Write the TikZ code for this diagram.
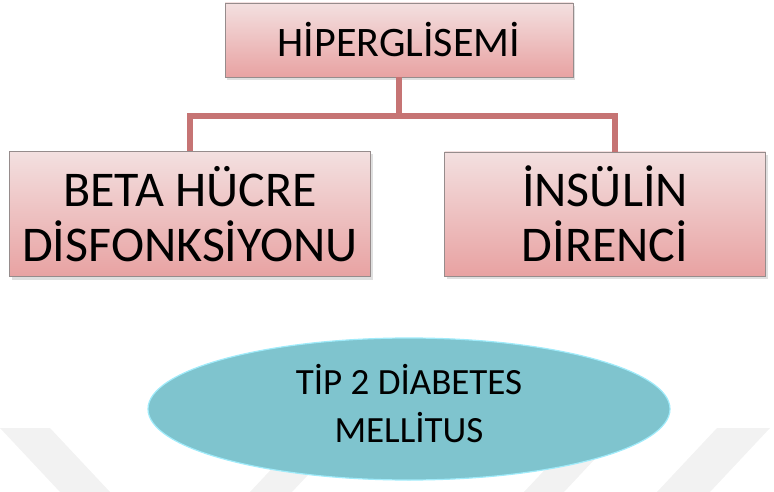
\documentclass[tikz,border=0pt]{standalone}
\usepackage{fontspec}
\setmainfont{Carlito}
\usetikzlibrary{shapes.geometric,shadows}
\definecolor{kutukenar}{RGB}{150,140,140}
\definecolor{kututop}{RGB}{243,224,224}
\definecolor{kutualt}{RGB}{232,162,162}
\definecolor{baglanti}{RGB}{198,116,116}
\definecolor{elipsdolgu}{RGB}{127,196,206}
\definecolor{elipskenar}{RGB}{160,235,250}
\definecolor{filigran}{RGB}{242,242,242}
\tikzset{
  kutu/.style={rectangle, draw=kutukenar, top color=kututop, bottom color=kutualt,
    align=center, inner sep=0pt,
    drop shadow={shadow xshift=2pt, shadow yshift=-3pt, opacity=0.25}},
  bag/.style={draw=baglanti, line width=6pt},
  sonuc/.style={ellipse, draw=elipskenar, line width=1.2pt, fill=elipsdolgu,
    align=center, inner sep=0pt},
}
\begin{document}
\begin{tikzpicture}[x=1pt,y=-1pt]
\useasboundingbox (0,0) rectangle (774,492);
% Filigran
\fill[filigran] (0,428) -- (50,428) -- (110,492) -- (60,492) -- cycle;
\fill[filigran] (250,492) -- (292,492) -- (352,428) -- (310,428) -- cycle;
\fill[filigran] (524,492) -- (564,492) -- (624,428) -- (584,428) -- cycle;
\fill[filigran] (657,492) -- (710,492) -- (770,428) -- (717,428) -- cycle;
% Kutular
\node[kutu, minimum width=348, minimum height=74, font=\fontsize{42}{50}\selectfont]
  (hiper) at (399,40) {HİPERGLİSEMİ};
\node[kutu, minimum width=361, minimum height=125, font=\fontsize{50}{55}\selectfont]
  (beta) at (190,214) {BETA HÜCRE\\DİSFONKSİYONU};
\node[kutu, minimum width=321, minimum height=124, font=\fontsize{50}{55}\selectfont]
  (insulin) at (605,214) {İNSÜLİN\\DİRENCİ};
% Baglantilar
\coordinate (orta) at (hiper.south |- 0,116);
\coordinate (sol) at (190,116);
\coordinate (sag) at (615,116);
\draw[bag] (hiper.south) -- (orta);
\draw[bag, line cap=rect] (sol) -- (sag);
\draw[bag] (sol) -- (sol |- beta.north);
\draw[bag] (sag) -- (sag |- insulin.north);
% Elips
\node[sonuc, minimum width=522, minimum height=142, font=\fontsize{37}{48}\selectfont,
  text depth=12pt] (tip2) at (409,409) {TİP 2 DİABETES\\MELLİTUS};
\end{tikzpicture}
\end{document}
